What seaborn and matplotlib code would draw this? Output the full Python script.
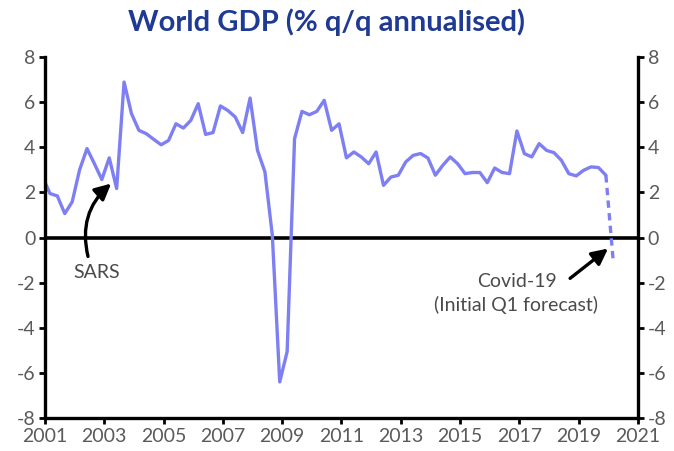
import numpy as np
import pandas as pd
import seaborn as sns
import matplotlib
matplotlib.use('Agg')
import matplotlib.pyplot as plt

# quarterly world GDP, % q/q annualised, 2000Q4 .. 2019Q4
quarters = pd.period_range('2000Q4', '2019Q4', freq='Q')
gdp = [2.7,
       1.95, 1.84, 1.06, 1.58,
       3.0, 3.94, 3.27, 2.57,
       3.53, 2.17, 6.89, 5.49,
       4.75, 4.6, 4.35, 4.11,
       4.3, 5.04, 4.85, 5.19,
       5.93, 4.57, 4.65, 5.83,
       5.63, 5.34, 4.65, 6.18,
       3.86, 2.91, 0.1, -6.4,
       -5.06, 4.38, 5.59, 5.44,
       5.59, 6.08, 4.75, 5.04,
       3.53, 3.79, 3.57, 3.27,
       3.79, 2.31, 2.68, 2.76,
       3.35, 3.64, 3.72, 3.52,
       2.76, 3.2, 3.57, 3.27,
       2.83, 2.88, 2.88, 2.43,
       3.08, 2.88, 2.83, 4.72,
       3.72, 3.57, 4.16, 3.86,
       3.76, 3.42, 2.83, 2.73,
       2.98, 3.13, 3.1, 2.76]
# initial Q1 2020 forecast
fc_quarters = pd.period_range('2019Q4', '2020Q1', freq='Q')
fc_gdp = [2.76, -1.08]

year_ticks = list(range(2001, 2022, 2))
y_ticks = list(range(-8, 9, 2))


def to_decimal(periods):
    # plot each quarter at the first day of its last month
    m = periods.asfreq('M', 'end')
    return m.year + (m.month - 1) / 12


df = pd.DataFrame({'t': to_decimal(quarters), 'gdp': gdp})
fc = pd.DataFrame({'t': to_decimal(fc_quarters), 'gdp': fc_gdp})

sns.set_style('white')
plt.rcParams['font.family'] = ['Lato', 'DejaVu Sans']
plt.rcParams['axes.unicode_minus'] = False

line_col = '#7f7ff4'
tick_col = '#5a5a5a'
txt_col = '#4a4a4a'

fig = plt.figure(figsize=(6.74, 4.51), dpi=100)
ax = fig.add_axes([45 / 674, 1 - 418 / 451, 593 / 674, 361 / 451])

sns.lineplot(data=df, x='t', y='gdp', ax=ax, color=line_col, lw=2.4)
sns.lineplot(data=fc, x='t', y='gdp', ax=ax, color=line_col, lw=2.4, linestyle=(0, (2.2, 1.6)))
ax.axhline(0, color='black', lw=2.6, zorder=1)

ax.set_xlim(2001, 2021)
ax.set_ylim(-8, 8)
ax.set_xticks(year_ticks)
ax.set_yticks(y_ticks)
ax.set_xlabel('')
ax.set_ylabel('')
for s in ['left', 'right', 'bottom']:
    ax.spines[s].set_visible(True)
    ax.spines[s].set_color('black')
    ax.spines[s].set_linewidth(2.4)
ax.spines['top'].set_visible(False)
ax.tick_params(axis='both', direction='out', length=4, width=2, color='black',
               labelcolor=tick_col, labelsize=14, pad=3)
ax.tick_params(axis='y', left=True, right=False)
ax.tick_params(axis='x', bottom=True)

ax2 = ax.twinx()
ax2.set_ylim(-8, 8)
ax2.set_yticks(y_ticks)
for s in ['left', 'right', 'bottom', 'top']:
    ax2.spines[s].set_visible(False)
ax2.tick_params(axis='y', direction='out', length=4, width=2, color='black',
                labelcolor=tick_col, labelsize=14, pad=3, right=True)

# annotations
ax.annotate('', xy=(2003.23, 2.39), xytext=(2002.45, -0.84),
            arrowprops=dict(arrowstyle='-|>', color='black', lw=2.4, mutation_scale=24,
                            shrinkA=0, shrinkB=0, connectionstyle='arc3,rad=-0.3'))
ax.text(2002.75, -1.55, 'SARS', ha='center', va='center', fontsize=14, color=txt_col)

ax.annotate('', xy=(2019.99, -0.49), xytext=(2018.71, -1.81),
            arrowprops=dict(arrowstyle='-|>', color='black', lw=2.4, mutation_scale=24,
                            shrinkA=0, shrinkB=0))
ax.text(2016.92, -1.95, 'Covid-19', ha='center', va='center', fontsize=14, color=txt_col)
ax.text(2016.9, -3.0, '(Initial Q1 forecast)', ha='center', va='center', fontsize=14,
        color=txt_col)

fig.text(327 / 674, 1 - 22 / 451, 'World GDP (% q/q annualised)', ha='center', va='center',
         fontsize=21, fontweight='bold', color='#1f3a93')

fig.savefig('out.png', dpi=100)
